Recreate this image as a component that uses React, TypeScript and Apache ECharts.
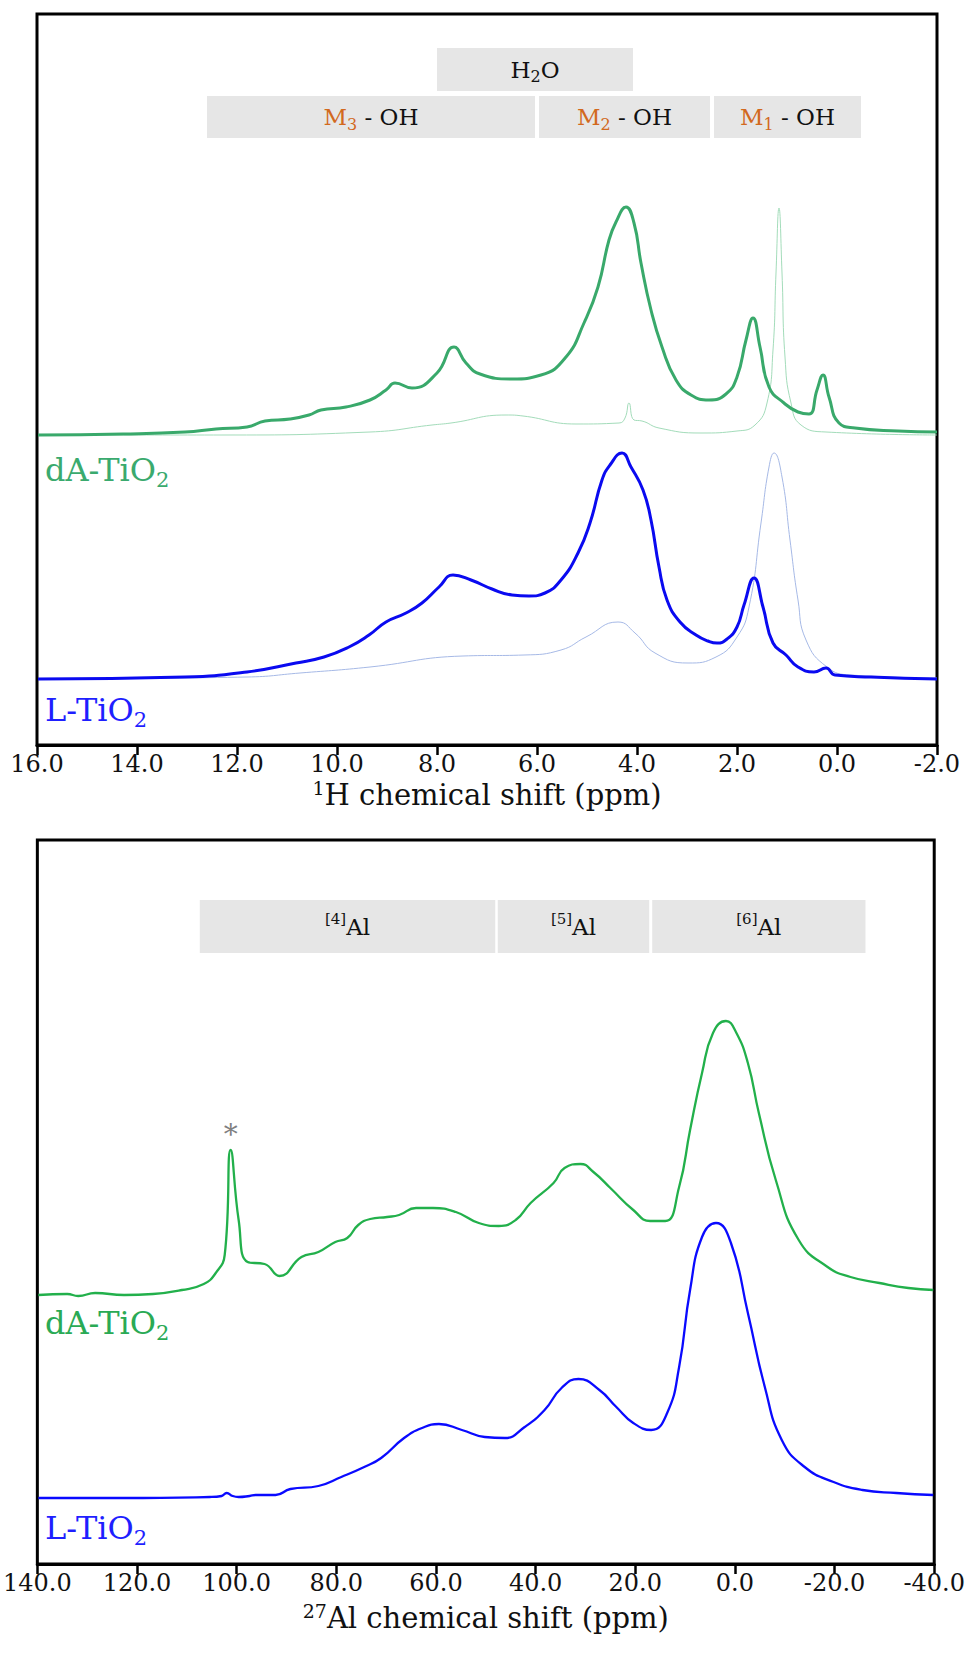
import React, { useEffect, useRef } from "react";
import * as echarts from "echarts";

const FONT = "DejaVu Serif";

// ---------- Top panel: 1H MAS NMR (ppm vs intensity) ----------
const H_TICK_MIN = -2;
const H_TICK_MAX = 16;
const H_TICK_STEP = 2;

const H_DA_PPM = [15.98, 14.28, 13.04, 12.42, 11.8, 11.44, 10.94, 10.56, 10.32, 9.82, 9.34, 9.02, 8.84, 8.5, 8.0, 7.66, 7.42, 7.14, 6.5, 5.92, 5.42, 5.06, 4.78, 4.56, 4.42, 4.22, 4.06, 3.92, 3.72, 3.5, 3.22, 2.92, 2.56, 2.22, 2.0, 1.82, 1.68, 1.54, 1.36, 1.06, 0.78, 0.56, 0.4, 0.28, 0.16, -0.04, -0.36, -1.22, -2.0];
const H_DA_INT = [310, 311, 313, 316, 318, 324, 326, 330, 335, 338, 345, 355, 362, 357, 372, 398, 382, 371, 366, 370, 388, 422, 458, 505, 523, 538, 522, 482, 435, 398, 365, 350, 345, 351, 368, 405, 427, 398, 358, 342, 333, 331, 355, 370, 348, 322, 317, 314, 313];

const H_DA2_PPM = [15.98, 12.3, 9.34, 8.1, 7.72, 6.62, 6.28, 5.22, 4.36, 4.24, 4.16, 4.06, 3.9, 3.56, 2.72, 2.0, 1.64, 1.4, 1.28, 1.22, 1.16, 1.1, 1.04, 0.92, 0.72, 0.22, -2.0];
const H_DA2_INT = [310, 310, 313, 320, 322, 330, 329, 321, 322, 327, 342, 325, 324, 317, 312, 314, 320, 342, 395, 472, 537, 472, 388, 342, 320, 313, 310];

const H_L_PPM = [15.98, 13.04, 11.8, 10.82, 10.26, 9.76, 9.36, 9.02, 8.62, 8.3, 7.96, 7.68, 7.32, 6.9, 6.5, 6.16, 5.84, 5.52, 5.18, 4.94, 4.7, 4.54, 4.3, 4.12, 3.88, 3.72, 3.56, 3.4, 3.14, 2.82, 2.58, 2.4, 2.2, 2.0, 1.86, 1.66, 1.48, 1.28, 1.02, 0.78, 0.46, 0.22, 0.04, -0.68, -2.0];
const H_L_INT = [66, 68, 73, 82, 88, 98, 110, 123, 132, 142, 158, 170, 165, 156, 150, 149, 152, 165, 192, 222, 265, 280, 292, 278, 255, 225, 178, 145, 123, 110, 104, 102, 106, 118, 140, 167, 138, 102, 90, 78, 73, 77, 70, 68, 66];

const H_L2_PPM = [15.98, 11.8, 10.74, 9.34, 7.48, 6.26, 5.52, 5.02, 4.38, 4.04, 3.64, 2.98, 2.42, 2.0, 1.76, 1.52, 1.36, 1.26, 1.1, 0.94, 0.78, 0.62, 0.2, -0.28, -2.0];
const H_L2_INT = [66, 68, 72, 78, 89, 90, 95, 108, 123, 112, 92, 82, 88, 108, 138, 222, 278, 292, 268, 205, 145, 105, 78, 70, 67];

// annotation bands (ppm from, ppm to, intensity bottom, intensity top)
const H_BANDS = [
  { label: "{k|H}{ks|2}{k|O}", from: 8.0, to: 4.08, lo: 654, hi: 697 },
  { label: "{o|M}{os|3}{k| - OH}", from: 12.6, to: 6.04, lo: 607, hi: 649 },
  { label: "{o|M}{os|2}{k| - OH}", from: 5.96, to: 2.54, lo: 607, hi: 649 },
  { label: "{o|M}{os|1}{k| - OH}", from: 2.46, to: -0.48, lo: 607, hi: 649 },
];

// ---------- Bottom panel: 27Al MAS NMR ----------
const AL_TICK_MIN = -40;
const AL_TICK_MAX = 140;
const AL_TICK_STEP = 20;

const AL_DA_PPM = [139.8, 134, 131.8, 128.4, 122.6, 116.8, 111, 106.6, 104.2, 102.4, 101.2, 99.6, 97.8, 94.4, 91.4, 87, 83.6, 80.2, 77.8, 75.6, 73.2, 69.8, 67.4, 64, 60.6, 56, 51.4, 47.4, 44, 41, 36.4, 34.2, 31, 28.4, 25, 20.4, 17, 14, 11.2, 9, 6.6, 4.4, 1.8, -0.2, -2.6, -4.8, -8.2, -12.8, -18.6, -23.2, -29, -34.8, -39.8];
const AL_DA_INT = [269, 270, 268, 271, 269, 270, 274, 280, 291, 309, 414, 344, 302, 300, 288, 307, 312, 322, 326, 339, 345, 347, 349, 356, 356, 352, 341, 338, 344, 361, 381, 396, 400, 392, 376, 354, 343, 343, 377, 434, 491, 531, 543, 532, 501, 451, 384, 324, 297, 287, 281, 276, 274];

const AL_L_PPM = [139.8, 122.6, 105.4, 103, 102, 100.8, 99.6, 97.4, 96.2, 92.2, 89.2, 83.6, 79, 74.4, 71, 66.4, 62.8, 59.4, 54.8, 50.2, 46.2, 42.2, 38.2, 34.8, 31.4, 27.2, 23.8, 20.4, 16.8, 13.6, 11.2, 9, 6.6, 3.8, 0.8, -2.6, -6, -9.4, -14, -19.8, -25.6, -32.4, -39.8];
const AL_L_INT = [66, 66, 67, 68, 71, 68, 67, 68, 69, 69, 75, 78, 87, 97, 106, 126, 136, 140, 134, 127, 126, 137, 154, 176, 185, 174, 157, 141, 134, 151, 197, 274, 327, 341, 321, 251, 177, 124, 97, 82, 74, 71, 69];

const AL_BANDS = [
  { label: "{sup|[4]}{k|Al}", from: 107.4, to: 48.1, lo: 611, hi: 664 },
  { label: "{sup|[5]}{k|Al}", from: 47.6, to: 17.2, lo: 611, hi: 664 },
  { label: "{sup|[6]}{k|Al}", from: 16.6, to: -26.2, lo: 611, hi: 664 },
];
const AL_STAR = { ppm: 101.2, int: 430, text: "*" };

// ---------- layout ----------
const W = 968;
const H = 1663;
const GRID_LEFT = 37;
const GRID_W = 900;
const TOP1 = 14;
const AXIS1 = 745;
const TOP2 = 840;
const AXIS2 = 1564;

const C_DA = "#39a96b";
const C_DA_THIN = "#a3dcba";
const C_L = "#0a0af0";
const C_L_THIN = "#a6b9e6";
const C_DA_AL = "#22b04b";
const C_L_AL = "#0a0aff";
const C_ORANGE = "#d2691e";

const zip = (xs: number[], ys: number[]) => xs.map((x, i) => [x, ys[i]]);

const richBox = {
  k: { color: "#111", fontSize: 23, fontFamily: FONT, lineHeight: 30, verticalAlign: "middle" },
  o: { color: C_ORANGE, fontSize: 23, fontFamily: FONT, lineHeight: 30, verticalAlign: "middle" },
  ks: { color: "#111", fontSize: 16, fontFamily: FONT, lineHeight: 16, verticalAlign: "bottom" },
  os: { color: C_ORANGE, fontSize: 16, fontFamily: FONT, lineHeight: 16, verticalAlign: "bottom" },
  sup: { color: "#111", fontSize: 15, fontFamily: FONT, lineHeight: 15, verticalAlign: "top" },
};

const richName = {
  t: { fontFamily: FONT, fontSize: 29, color: "#111", lineHeight: 34, verticalAlign: "middle" },
  sup: { fontFamily: FONT, fontSize: 19, color: "#111", lineHeight: 19, verticalAlign: "top" },
};

function bandArea(bands: any[]) {
  return {
    silent: true,
    itemStyle: { color: "#e6e6e6", borderWidth: 0 },
    label: { show: true, position: "inside", rich: richBox },
    data: bands.map((b) => [
      {
        xAxis: b.from,
        yAxis: b.hi,
        label: { show: true, position: "inside", formatter: b.label, rich: richBox },
      },
      { xAxis: b.to, yAxis: b.lo },
    ]),
  };
}

function xAxisCfg(gridIndex: number, min: number, max: number, step: number, name: string, nameGap: number) {
  return {
    type: "value",
    gridIndex,
    inverse: true,
    min,
    max,
    interval: step,
    position: "bottom",
    name,
    nameLocation: "middle",
    nameGap,
    nameTextStyle: { fontFamily: FONT, fontSize: 29, color: "#111", rich: richName },
    axisLine: { show: true, onZero: false, lineStyle: { color: "#000", width: 3 } },
    axisTick: { show: true, inside: false, length: 10, lineStyle: { color: "#000", width: 2.5 } },
    axisLabel: {
      show: true,
      margin: 7,
      fontFamily: FONT,
      fontSize: 24,
      color: "#111",
      formatter: (v: number) => v.toFixed(1),
    },
    splitLine: { show: false },
  };
}

function line(xi: number, xs: number[], ys: number[], color: string, width: number, z: number, extra: any = {}) {
  return {
    type: "line",
    xAxisIndex: xi,
    yAxisIndex: xi,
    data: zip(xs, ys),
    symbol: "none",
    showSymbol: false,
    smooth: 0.5,
    lineStyle: { color, width },
    silent: true,
    z,
    ...extra,
  };
}

function sampleLabel(x: number, y: number, main: string, sub: string, color: string) {
  return {
    type: "text",
    x,
    y,
    style: {
      text: `{a|${main}}{s|${sub}}`,
      verticalAlign: "middle",
      rich: {
        a: { fill: color, fontFamily: FONT, fontSize: 32, lineHeight: 40, verticalAlign: "middle" },
        s: { fill: color, fontFamily: FONT, fontSize: 21, lineHeight: 21, verticalAlign: "bottom" },
      },
    },
  };
}

export default function App() {
  const ref = useRef<HTMLDivElement>(null);
  useEffect(() => {
    if (!ref.current) return;
    const chart = echarts.init(ref.current, null, { renderer: "svg" });
    const option: any = {
      animation: false,
      backgroundColor: "#fff",
      grid: [
        { left: GRID_LEFT, width: GRID_W, top: TOP1, height: AXIS1 - TOP1, show: true, borderColor: "#000", borderWidth: 3, backgroundColor: "rgba(0,0,0,0)" },
        { left: GRID_LEFT, width: GRID_W, top: TOP2, height: AXIS2 - TOP2, show: true, borderColor: "#000", borderWidth: 3, backgroundColor: "rgba(0,0,0,0)" },
      ],
      xAxis: [
        xAxisCfg(0, H_TICK_MIN, H_TICK_MAX, H_TICK_STEP, "{sup|1}{t|H chemical shift (ppm)}", 33),
        xAxisCfg(1, AL_TICK_MIN, AL_TICK_MAX, AL_TICK_STEP, "{sup|27}{t|Al chemical shift (ppm)}", 37),
      ],
      yAxis: [
        { type: "value", gridIndex: 0, min: 0, max: AXIS1 - TOP1, show: false },
        { type: "value", gridIndex: 1, min: 0, max: AXIS2 - TOP2, show: false },
      ],
      series: [
        { type: "line", xAxisIndex: 0, yAxisIndex: 0, data: [], markArea: bandArea(H_BANDS) },
        { type: "line", xAxisIndex: 1, yAxisIndex: 1, data: [], markArea: bandArea(AL_BANDS) },
        line(0, H_DA2_PPM, H_DA2_INT, C_DA_THIN, 1, 2),
        line(0, H_L2_PPM, H_L2_INT, C_L_THIN, 1, 2),
        line(0, H_DA_PPM, H_DA_INT, C_DA, 3, 3),
        line(0, H_L_PPM, H_L_INT, C_L, 3, 3),
        line(1, AL_DA_PPM, AL_DA_INT, C_DA_AL, 2.3, 3, {
          markPoint: {
            silent: true,
            symbol: "circle",
            symbolSize: 0,
            data: [{ coord: [AL_STAR.ppm, AL_STAR.int] }],
            label: { show: true, position: "inside", formatter: AL_STAR.text, color: "#808080", fontSize: 28, fontFamily: FONT },
          },
        }),
        line(1, AL_L_PPM, AL_L_INT, C_L_AL, 2.3, 3),
      ],
      graphic: [
        sampleLabel(45, 470, "dA-TiO", "2", "#3aaa6e"),
        sampleLabel(45, 710, "L-TiO", "2", "#1f1fff"),
        sampleLabel(45, 1323, "dA-TiO", "2", "#2aaa55"),
        sampleLabel(45, 1528, "L-TiO", "2", "#1f1fff"),
      ],
    };
    chart.setOption(option);
    return () => chart.dispose();
  }, []);
  return (
    <div
      ref={ref}
      style={{ position: "absolute", left: 0, top: 0, width: W, height: H, background: "#fff" }}
    />
  );
}
